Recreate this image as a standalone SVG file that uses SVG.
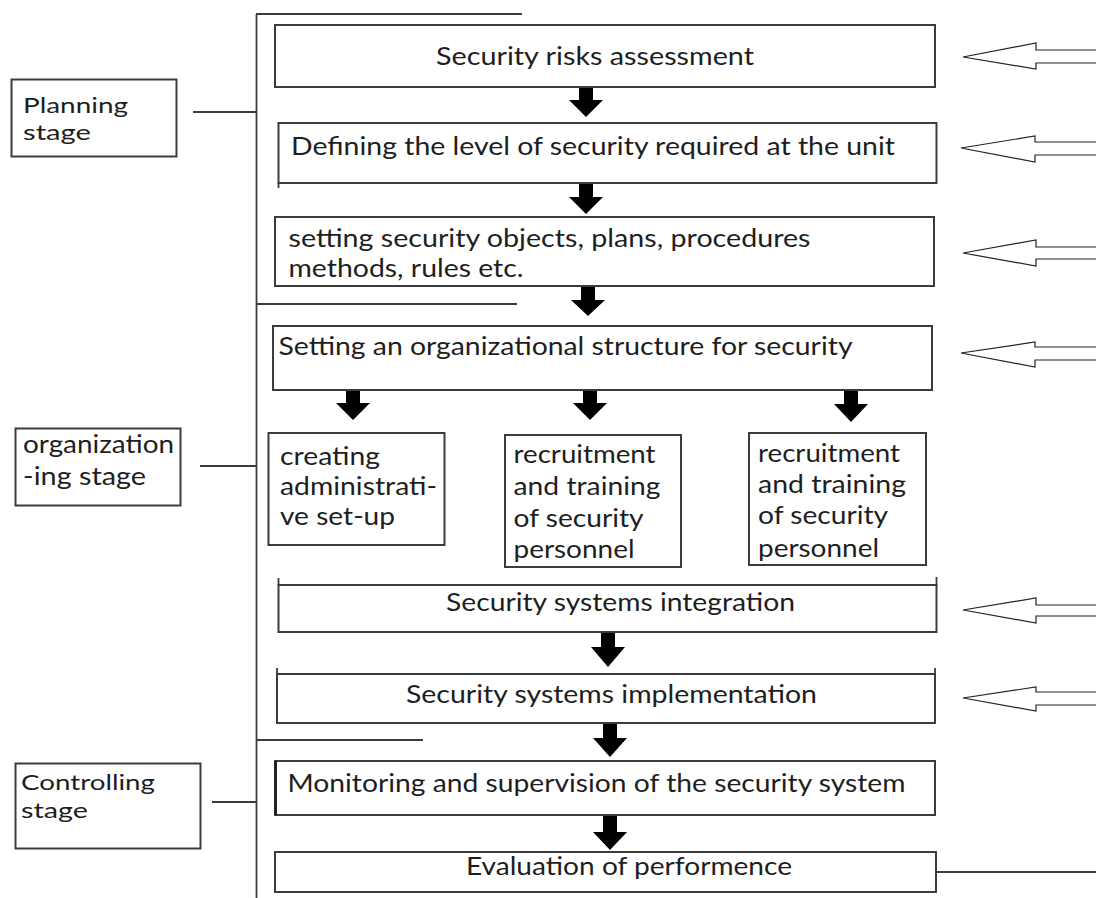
<svg xmlns="http://www.w3.org/2000/svg" width="1096" height="898" viewBox="0 0 1096 898">
<style>
  .box{fill:#fff;stroke:#3c3c3c;stroke-width:2}
  .ln{stroke:#3c3c3c;stroke-width:1.8;fill:none}
  .t{font-family:Lato,"Liberation Sans",sans-serif;font-size:25px;fill:#1e1e1e}
  .s{font-size:22px}
  .dn{fill:#000}
  .hol{fill:#fff;stroke:#222;stroke-width:1.2}
</style>
<rect width="1096" height="898" fill="#fff"/>

<g id="connectors">
  <line class="ln" x1="256.5" y1="14" x2="256.5" y2="898"/>
  <line class="ln" x1="256" y1="14" x2="522" y2="14"/>
  <line class="ln" x1="256" y1="304" x2="517" y2="304"/>
  <line class="ln" x1="256" y1="740" x2="423" y2="740"/>
  <line class="ln" x1="193" y1="112" x2="256" y2="112"/>
  <line class="ln" x1="200" y1="466" x2="256" y2="466"/>
  <line class="ln" x1="212" y1="802" x2="256" y2="802"/>
  <line class="ln" x1="936" y1="872" x2="1096" y2="872" stroke-width="1.2"/>
  <!-- down arrows -->
  <polygon class="dn" points="579,87 593,87 593,100 603,100 586,117 569,100 579,100"/>
  <polygon class="dn" points="579,184 593,184 593,197 603,197 586,214 569,197 579,197"/>
  <polygon class="dn" points="581,287 595,287 595,300 605,300 588,316 571,300 581,300"/>
  <polygon class="dn" points="346,391 360,391 360,403 370,403 353,420 336,403 346,403"/>
  <polygon class="dn" points="583,391 597,391 597,403 607,403 590,420 573,403 583,403"/>
  <polygon class="dn" points="844,391 858,391 858,404 868,404 851,422 834,404 844,404"/>
  <polygon class="dn" points="601,632 615,632 615,647 625,647 608,667 591,647 601,647"/>
  <polygon class="dn" points="603,723 617,723 617,738 627,738 610,757 593,738 603,738"/>
  <polygon class="dn" points="603,815 617,815 617,832 627,832 610,850 593,832 603,832"/>
  <!-- hollow input arrows -->
  <polygon class="hol" points="963,57 1036,43 1036,50 1100,50 1100,63 1036,63 1036,69"/>
  <polygon class="hol" points="961,148 1035,136 1035,142 1100,142 1100,155 1035,155 1035,162"/>
  <polygon class="hol" points="963,253 1036,240 1036,247 1100,247 1100,259 1036,259 1036,266"/>
  <polygon class="hol" points="961,353 1035,342 1035,347 1100,347 1100,360 1035,360 1035,367"/>
  <polygon class="hol" points="963,610 1036,598 1036,605 1100,605 1100,616 1036,616 1036,623"/>
  <polygon class="hol" points="963,698 1036,687 1036,692 1100,692 1100,705 1036,705 1036,711"/>
</g>

<g id="planning-stage">
  <rect class="box" x="11.5" y="79.5" width="165" height="77"/>
  <text class="t s" x="23" y="113" textLength="105" lengthAdjust="spacingAndGlyphs">Planning</text>
  <text class="t s" x="23" y="140" textLength="68" lengthAdjust="spacingAndGlyphs">stage</text>
</g>
<g id="organizing-stage">
  <rect class="box" x="15.5" y="428.5" width="165" height="77"/>
  <text class="t" x="23" y="453" textLength="151" lengthAdjust="spacingAndGlyphs">organization</text>
  <text class="t" x="23" y="485" textLength="123" lengthAdjust="spacingAndGlyphs">-ing stage</text>
</g>
<g id="controlling-stage">
  <rect class="box" x="15.5" y="763.5" width="185" height="85"/>
  <text class="t s" x="21" y="790" textLength="134" lengthAdjust="spacingAndGlyphs">Controlling</text>
  <text class="t s" x="21" y="818" textLength="67" lengthAdjust="spacingAndGlyphs">stage</text>
</g>

<g id="risk-assessment">
  <rect class="box" x="275" y="25" width="660" height="62"/>
  <text class="t" x="436" y="65" textLength="318" lengthAdjust="spacingAndGlyphs">Security risks assessment</text>
</g>
<g id="security-level">
  <rect class="box" x="278.5" y="123" width="658" height="60"/>
  <line class="ln" x1="278.5" y1="183" x2="278.5" y2="188"/>
  <text class="t" x="291" y="155" textLength="604" lengthAdjust="spacingAndGlyphs">Defining the level of security required at the unit</text>
</g>
<g id="security-objects">
  <rect class="box" x="275" y="217" width="659" height="69"/>
  <text class="t" x="288.5" y="247" textLength="522" lengthAdjust="spacingAndGlyphs">setting security objects, plans, procedures</text>
  <text class="t" x="288.5" y="277" textLength="235" lengthAdjust="spacingAndGlyphs">methods, rules etc.</text>
</g>
<g id="org-structure">
  <rect class="box" x="273" y="326" width="659" height="64"/>
  <text class="t" x="278.5" y="355" textLength="574" lengthAdjust="spacingAndGlyphs">Setting an organizational structure for security</text>
</g>
<g id="admin-setup">
  <rect class="box" x="268.5" y="433" width="176" height="112"/>
  <text class="t" x="280" y="465" textLength="100" lengthAdjust="spacingAndGlyphs">creating</text>
  <text class="t" x="280" y="495" textLength="157" lengthAdjust="spacingAndGlyphs">administrati-</text>
  <text class="t" x="280" y="525" textLength="115" lengthAdjust="spacingAndGlyphs">ve set-up</text>
</g>
<g id="recruitment-1">
  <rect class="box" x="505" y="435" width="176" height="132"/>
  <text class="t" x="513.5" y="463" textLength="142" lengthAdjust="spacingAndGlyphs">recruitment</text>
  <text class="t" x="513.5" y="495" textLength="147" lengthAdjust="spacingAndGlyphs">and training</text>
  <text class="t" x="513.5" y="527" textLength="130" lengthAdjust="spacingAndGlyphs">of security</text>
  <text class="t" x="513.5" y="558" textLength="121" lengthAdjust="spacingAndGlyphs">personnel</text>
</g>
<g id="recruitment-2">
  <rect class="box" x="749" y="433" width="177" height="132"/>
  <text class="t" x="758" y="462" textLength="142" lengthAdjust="spacingAndGlyphs">recruitment</text>
  <text class="t" x="758" y="493" textLength="148" lengthAdjust="spacingAndGlyphs">and training</text>
  <text class="t" x="758" y="524" textLength="130" lengthAdjust="spacingAndGlyphs">of security</text>
  <text class="t" x="758" y="557" textLength="121" lengthAdjust="spacingAndGlyphs">personnel</text>
</g>
<g id="integration">
  <rect class="box" x="278.5" y="585" width="658" height="47"/>
  <line class="ln" x1="278.5" y1="578" x2="278.5" y2="585"/>
  <line class="ln" x1="936.5" y1="577" x2="936.5" y2="585"/>
  <text class="t" x="446" y="611" textLength="349" lengthAdjust="spacingAndGlyphs">Security systems integration</text>
</g>
<g id="implementation">
  <rect class="box" x="277" y="674" width="658" height="49"/>
  <line class="ln" x1="277" y1="668" x2="277" y2="674"/>
  <line class="ln" x1="935" y1="668" x2="935" y2="674"/>
  <text class="t" x="406" y="703" textLength="411" lengthAdjust="spacingAndGlyphs">Security systems implementation</text>
</g>
<g id="monitoring">
  <rect class="box" x="275" y="761" width="660" height="54"/>
  <line x1="275.5" y1="761" x2="275.5" y2="815" stroke="#222" stroke-width="3"/>
  <text class="t" x="287.5" y="792" textLength="618" lengthAdjust="spacingAndGlyphs">Monitoring and supervision of the security system</text>
</g>
<g id="evaluation">
  <rect class="box" x="275" y="852" width="661" height="40"/>
  <text class="t" x="466" y="875" textLength="326" lengthAdjust="spacingAndGlyphs">Evaluation of performence</text>
</g>
</svg>
